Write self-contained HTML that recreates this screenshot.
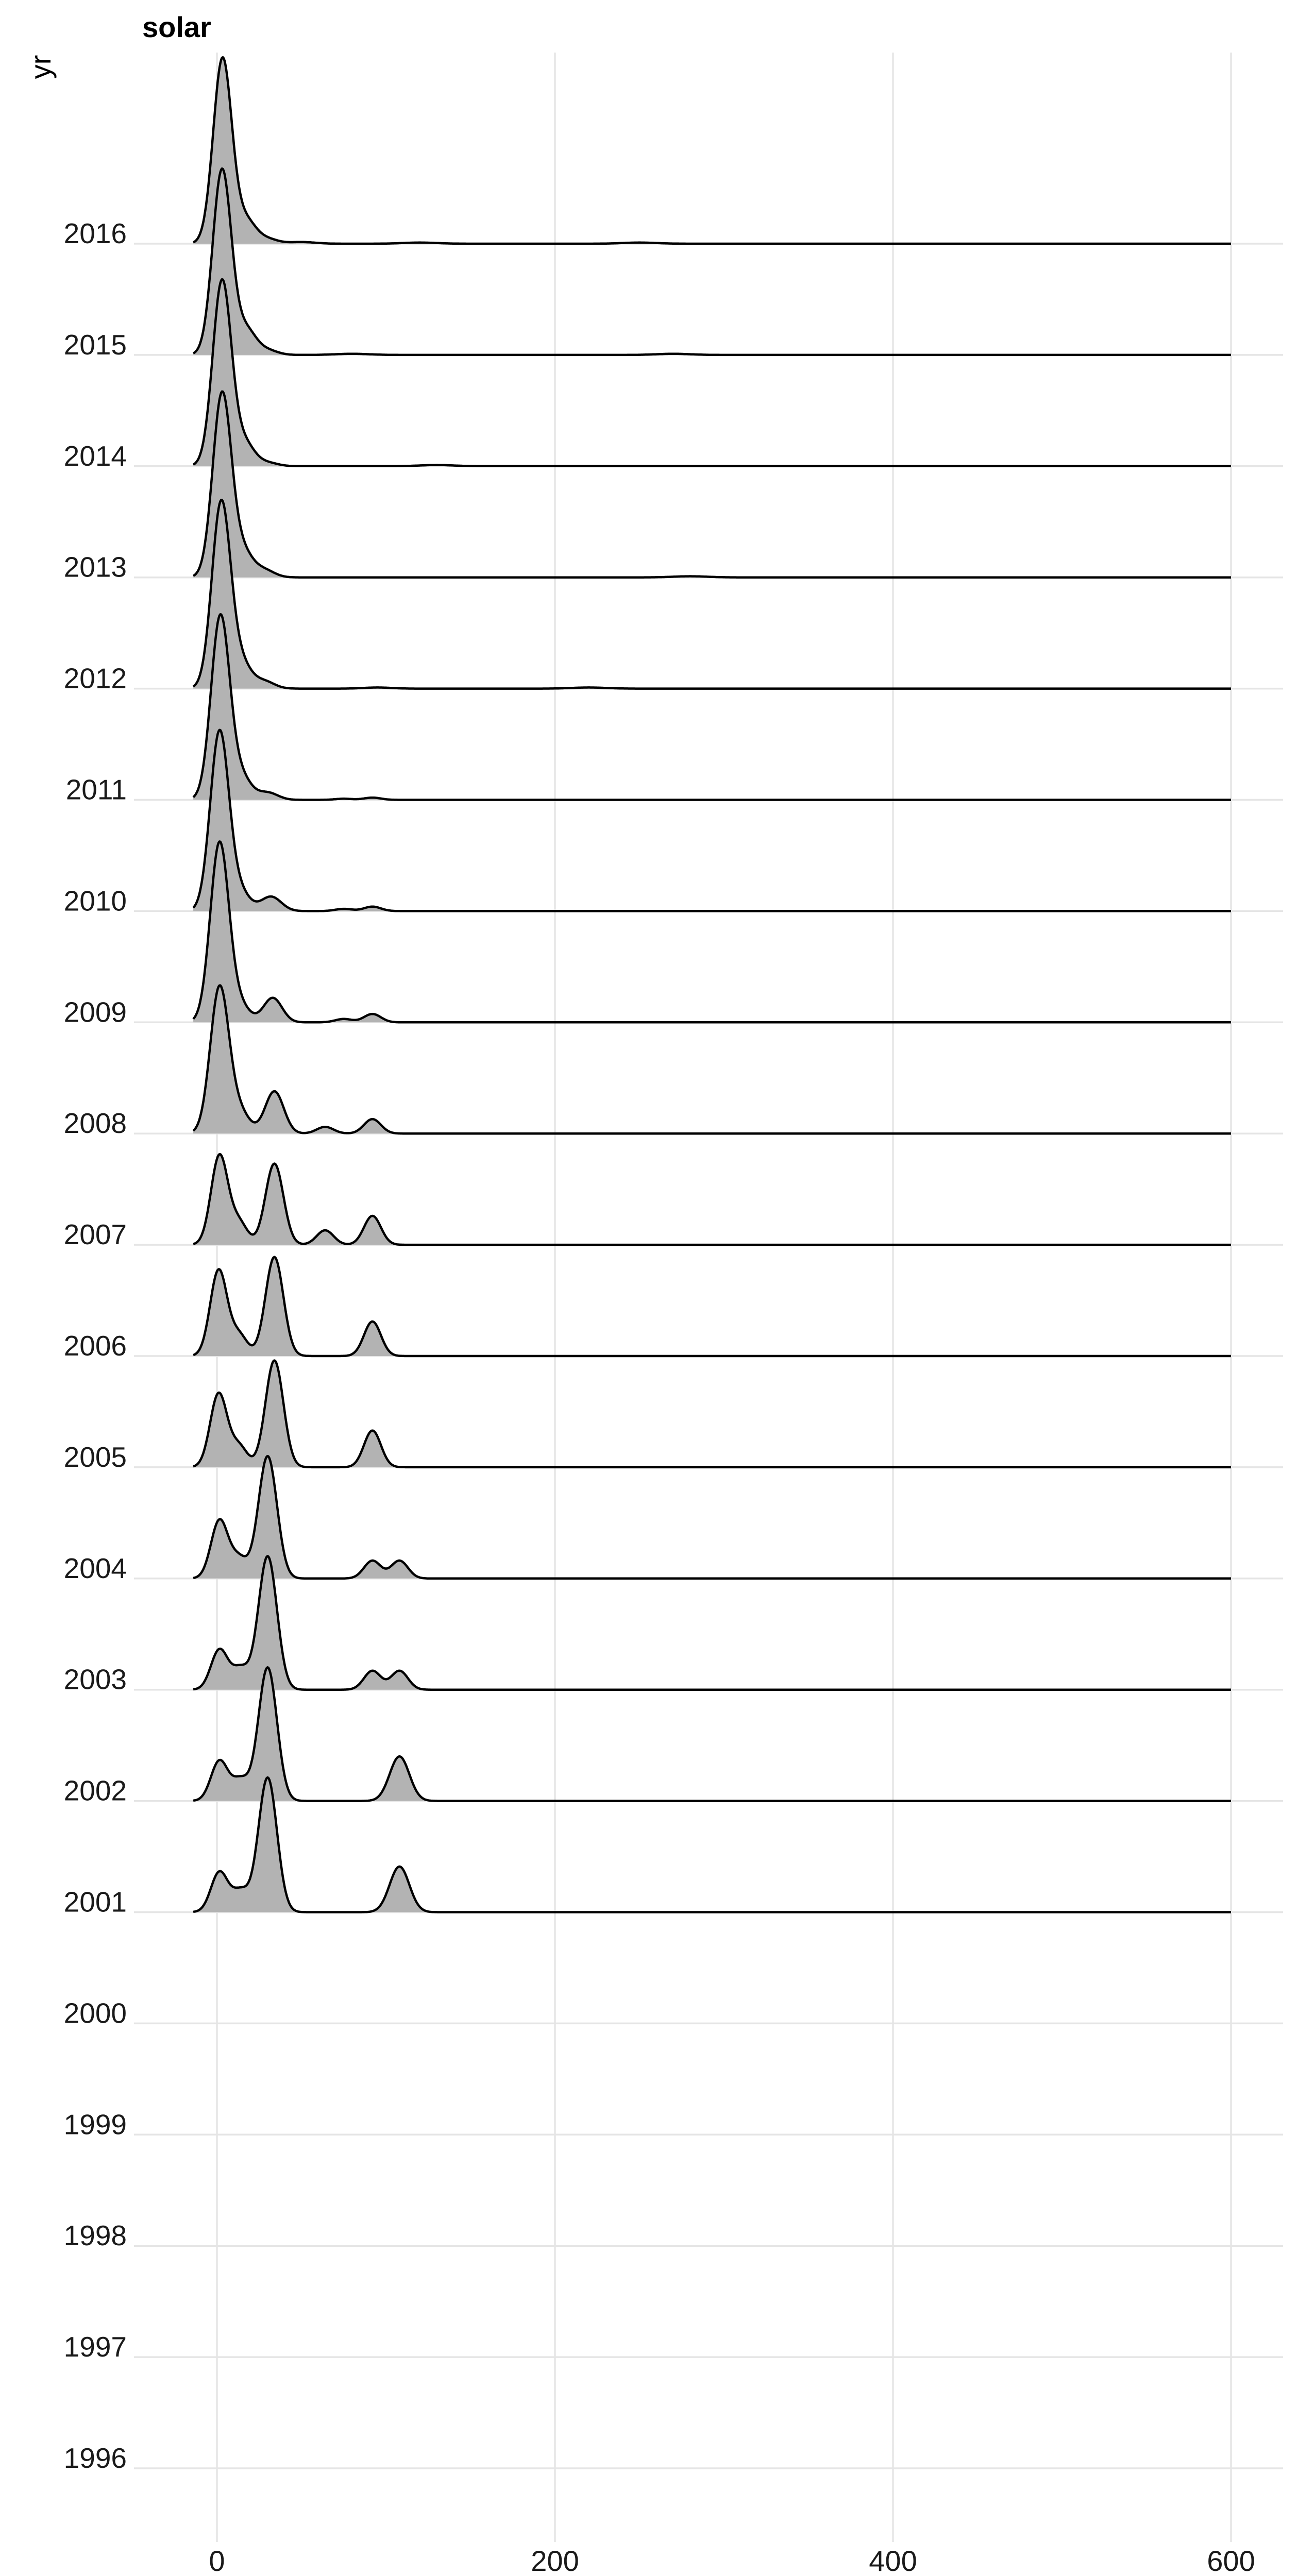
<!DOCTYPE html>
<html><head><meta charset="utf-8"><style>
html,body{margin:0;padding:0;background:#fff;width:2550px;height:5100px;overflow:hidden}
svg{display:block}
text{font-family:"Liberation Sans",Arial,sans-serif}
</style></head><body>
<svg id="chart" width="2550" height="5100" viewBox="0 0 2550 5100" xmlns="http://www.w3.org/2000/svg">
<g id="grid"></g>
<g id="ridges"></g>
<g id="axes"></g>
<text x="276" y="72" font-size="56" font-weight="bold" fill="#000">solar</text>
<text x="0" y="0" font-size="56" fill="#000" text-anchor="middle" transform="translate(98,130) rotate(-90)">yr</text>
<text x="2490" y="5058" font-size="56" fill="#000" text-anchor="end">MW</text>
</svg>
<script>
// ---- data ----
const yearLabels = [1996,1997,1998,1999,2000,2001,2002,2003,2004,2005,2006,2007,2008,2009,2010,2011,2012,2013,2014,2015,2016];
const xTicks = [0,200,400,600];
const ridgeYears = [2016,2015,2014,2013,2012,2011,2010,2009,2008,2007,2006,2005,2004,2003,2002,2001];
// density components per year: centers (MW), heights (row units), spreads (MW)
const centers2016=[3.3,17,30,50,120,250], heights2016=[1.66,0.21,0.04,0.015,0.01,0.01], sd2016=[5.5,6,6,8,10,10];
const centers2015=[3,17,30,80,270], heights2015=[1.66,0.23,0.04,0.01,0.01], sd2015=[5.5,6,6,10,10];
const centers2014=[3,16,30,130], heights2014=[1.66,0.21,0.03,0.01], sd2014=[5.5,6,6,10];
const centers2013=[3,15,28,280], heights2013=[1.64,0.23,0.065,0.01], sd2013=[5.5,6,6,10];
const centers2012=[2.5,14,28,95,220], heights2012=[1.66,0.23,0.065,0.01,0.01], sd2012=[5.5,6,6,8,10];
const centers2011=[2,14,30,75,92], heights2011=[1.64,0.21,0.065,0.01,0.02], sd2011=[5.5,6,6,5,5];
const centers2010=[1.5,13,32,75,92], heights2010=[1.6,0.18,0.13,0.02,0.04], sd2010=[5.5,6,6,5,5];
const centers2009=[1.5,13,33,75,92], heights2009=[1.6,0.16,0.22,0.03,0.075], sd2009=[5.5,6,5.5,5,5];
const centers2008=[1.5,13,34,64,92], heights2008=[1.3,0.2,0.38,0.06,0.13], sd2008=[5.5,6,5.5,5,5];
const centers2007=[1.5,13,34,64,92], heights2007=[0.8,0.2,0.73,0.13,0.26], sd2007=[5,5,5.3,5,5];
const centers2006=[1,13,34,92], heights2006=[0.77,0.19,0.89,0.31], sd2006=[5,5,5.3,5];
const centers2005=[1,13,34,92], heights2005=[0.66,0.19,0.96,0.33], sd2005=[5,5,5.3,5];
const centers2004=[1.5,13,30,92,108], heights2004=[0.52,0.18,1.1,0.16,0.16], sd2004=[5,5,5.5,5,5];
const centers2003=[1.5,14,30,92,108], heights2003=[0.36,0.19,1.2,0.17,0.17], sd2003=[5,5,5.5,5,5];
const centers2002=[1.5,14,30,108], heights2002=[0.36,0.19,1.2,0.4], sd2002=[5,5,5.5,5.8];
const centers2001=[1.5,14,30,108], heights2001=[0.36,0.19,1.21,0.41], sd2001=[5,5,5.5,5.8];
const comps = {
 2016:[centers2016,heights2016,sd2016],2015:[centers2015,heights2015,sd2015],2014:[centers2014,heights2014,sd2014],
 2013:[centers2013,heights2013,sd2013],2012:[centers2012,heights2012,sd2012],2011:[centers2011,heights2011,sd2011],
 2010:[centers2010,heights2010,sd2010],2009:[centers2009,heights2009,sd2009],2008:[centers2008,heights2008,sd2008],
 2007:[centers2007,heights2007,sd2007],2006:[centers2006,heights2006,sd2006],2005:[centers2005,heights2005,sd2005],
 2004:[centers2004,heights2004,sd2004],2003:[centers2003,heights2003,sd2003],2002:[centers2002,heights2002,sd2002],
 2001:[centers2001,heights2001,sd2001]};
const xMin=-14, xMax=600;
// ---- scales ----
const X0=421, XPER=(2389-421)/600;
const Y2016=473, ROW=215.9;
function xs(v){return X0+v*XPER;}
function ys(yr){return Y2016+(2016-yr)*ROW;}
const NS="http://www.w3.org/2000/svg";
function mk(tag,attrs,parent){const e=document.createElementNS(NS,tag);for(const k in attrs)e.setAttribute(k,attrs[k]);parent.appendChild(e);return e;}
const grid=document.getElementById('grid'), ridges=document.getElementById('ridges'), axes=document.getElementById('axes');
xTicks.forEach(t=>{
  const l=mk('line',{x1:xs(t),x2:xs(t),y1:102,y2:4934,stroke:'#e6e6e6','stroke-width':3.5},grid);
  
  
  const tx=mk('text',{x:xs(t),y:4990,'font-size':56,'text-anchor':'middle',fill:'#1a1a1a'},axes);
  tx.textContent=t;
  
  
});
yearLabels.forEach(yr=>{
  const l=mk('line',{x1:260,x2:2490,y1:ys(yr),y2:ys(yr),stroke:'#e5e5e5','stroke-width':3.5},grid);
  
  
  const tx=mk('text',{x:246,y:ys(yr)-1,'font-size':55,'text-anchor':'end',fill:'#1a1a1a'},axes);
  tx.textContent=yr;
  
  
});
function dens(yr,v){const [c,h,s]=comps[yr];let d=0;for(let i=0;i<c.length;i++){const z=(v-c[i])/s[i];d+=h[i]*Math.exp(-0.5*z*z);}return d;}
ridgeYears.forEach(yr=>{
  const b=ys(yr);let pts=[];
  for(let v=xMin;v<=xMax;v+=0.5){pts.push(xs(v).toFixed(1)+','+(b-dens(yr,v)*ROW).toFixed(1));}
  const area=mk('path',{d:'M'+xs(xMin)+','+b+' L'+pts.join(' L')+' L'+xs(xMax)+','+b+' Z',fill:'#b3b3b3',stroke:'none'},ridges);
  
  
  const line=mk('path',{d:'M'+pts.join(' L'),fill:'none',stroke:'#000','stroke-width':4.5,'stroke-linejoin':'round'},ridges);
  
  
});
</script>
</body></html>
